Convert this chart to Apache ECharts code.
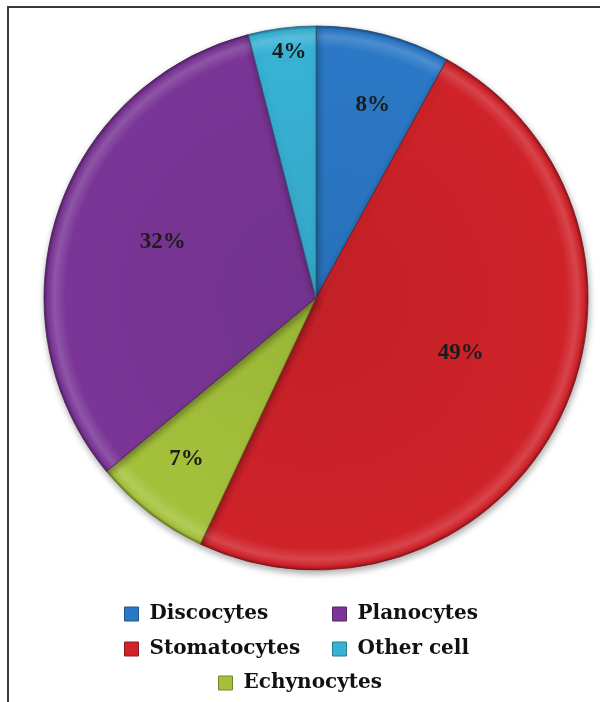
<!DOCTYPE html>
<html>
<head>
<meta charset="utf-8">
<script src="https://cdn.jsdelivr.net/npm/echarts@6/dist/echarts.min.js"></script>
<style>
  html, body { margin: 0; padding: 0; background: #fff; }
  #frame {
    position: absolute; left: 7px; top: 6px; width: 593px; height: 696px;
    border-left: 2px solid #3a3a3a; border-top: 2px solid #3a3a3a;
  }
  #chart { position: absolute; left: 0; top: 0; width: 600px; height: 702px; }
</style>
</head>
<body>
<div id="frame"></div>
<div id="chart"></div>
<script>
// Red blood cell morphology shares (%)
const categories = ['Discocytes', 'Stomatocytes', 'Echynocytes', 'Planocytes', 'Other cell'];
const shares = [8, 49, 7, 32, 4];

// Legend groups (two columns plus a centred last row)
const legendLeftColumn = ['Discocytes', 'Stomatocytes'];
const legendRightColumn = ['Planocytes', 'Other cell'];
const legendBottomRow = ['Echynocytes'];

// Slice colours and label placement (fraction of radius, angular nudge in degrees)
const sliceColors = ['#2b78c6', '#cf2229', '#a5c13b', '#7a3596', '#38b2d4'];
const labelRadius = [0.74, 0.57, 0.76, 0.60, 0.91];
const labelNudge = [2, -6, 1, 2, 1];

const cx = 316, cy = 298, R = 272;

function shade(hex, amt) {
  const n = parseInt(hex.slice(1), 16);
  let r = (n >> 16) & 255, g = (n >> 8) & 255, b = n & 255;
  const f = v => Math.max(0, Math.min(255, Math.round(amt >= 0 ? v + (255 - v) * amt : v * (1 + amt))));
  return 'rgb(' + f(r) + ',' + f(g) + ',' + f(b) + ')';
}

function bevel(hex) {
  return {
    type: 'radial', x: cx, y: cy, r: R, global: true,
    colorStops: [
      { offset: 0, color: shade(hex, -0.06) },
      { offset: 0.92, color: hex },
      { offset: 0.962, color: shade(hex, 0.16) },
      { offset: 0.988, color: hex },
      { offset: 1, color: shade(hex, -0.35) }
    ]
  };
}

const total = shares.reduce((a, b) => a + b, 0);
const midAngles = [];
let acc = 0;
shares.forEach(v => { midAngles.push((acc + v / 2) / total * 360); acc += v; });

const colorOf = name => sliceColors[categories.indexOf(name)];
const legendItems = names => names.map(n => ({
  name: n,
  itemStyle: { color: colorOf(n), borderColor: shade(colorOf(n), -0.3), borderWidth: 1 }
}));

const chart = echarts.init(document.getElementById('chart'), null, { renderer: 'canvas' });

const legendBase = {
  orient: 'vertical',
  itemWidth: 14,
  itemHeight: 14,
  itemGap: 11,
  icon: 'rect',
  textStyle: {
    fontFamily: 'DejaVu Serif',
    fontWeight: 'bold',
    fontSize: 20,
    color: '#111',
    lineHeight: 24,
    padding: [0, 0, 0, 6]
  }
};

chart.setOption({
  animation: false,
  backgroundColor: 'transparent',
  legend: [
    Object.assign({}, legendBase, { data: legendItems(legendLeftColumn), left: 119, top: 597 }),
    Object.assign({}, legendBase, { data: legendItems(legendRightColumn), left: 327, top: 597 }),
    Object.assign({}, legendBase, { data: legendItems(legendBottomRow), left: 213, top: 666 })
  ],
  series: [{
    type: 'pie',
    center: [cx, cy],
    radius: [0, R],
    startAngle: 90,
    clockwise: true,
    avoidLabelOverlap: false,
    data: categories.map((name, i) => ({
      name: name,
      value: shares[i],
      itemStyle: {
        color: bevel(sliceColors[i]),
        borderColor: shade(sliceColors[i], -0.4),
        borderWidth: 0.8,
        shadowBlur: 7,
        shadowOffsetX: 1,
        shadowOffsetY: 3,
        shadowColor: 'rgba(0,0,0,0.35)'
      }
    })),
    label: {
      show: true,
      position: 'inside',
      formatter: '{c}%',
      fontFamily: 'Liberation Serif',
      fontWeight: 'bold',
      fontSize: 23,
      color: '#1c1c1c'
    },
    labelLine: { show: false },
    labelLayout: function (params) {
      const i = params.dataIndex;
      const a = (midAngles[i] + labelNudge[i]) * Math.PI / 180;
      const r = R * labelRadius[i];
      return {
        x: cx + r * Math.sin(a),
        y: cy - r * Math.cos(a),
        align: 'center',
        verticalAlign: 'middle'
      };
    },
    emphasis: { disabled: true }
  }]
});
</script>
</body>
</html>
